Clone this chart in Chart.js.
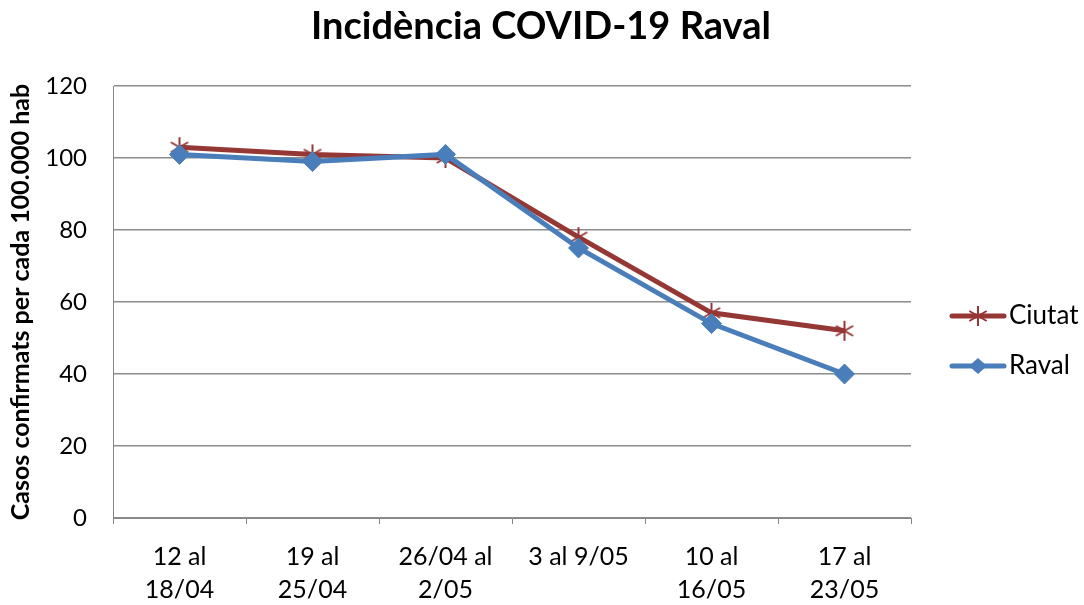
<!DOCTYPE html>
<html>
<head>
<meta charset="utf-8">
<script src="https://cdn.jsdelivr.net/npm/chart.js@4/dist/chart.umd.min.js"></script>
<style>
html,body{margin:0;padding:0;background:#fff;}
#wrap{width:1084px;height:605px;position:relative;}
</style>
</head>
<body>
<div id="wrap"><canvas id="c" width="1084" height="605"></canvas></div>
<script>
const categories = [["12 al","18/04"],["19 al","25/04"],["26/04 al","2/05"],["3 al 9/05"],["10 al","16/05"],["17 al","23/05"]];
const ciutat = [103, 101, 100, 78, 57, 52];
const raval = [101, 99, 101, 75, 54, 40];
const yTicks = [0, 20, 40, 60, 80, 100, 120];

const RED = '#953735';
const BLUE = '#4A7EBB';
const FONT = 'Lato, "Open Sans", sans-serif';

function starCanvas(size, color, lw){
  const c = document.createElement('canvas');
  c.width = size; c.height = size;
  const g = c.getContext('2d');
  g.strokeStyle = color; g.lineWidth = lw; g.lineCap = 'butt';
  const r = size/2 - 1, m = size/2;
  g.beginPath();
  g.moveTo(m, m-r); g.lineTo(m, m+r);
  const d = r*Math.cos(Math.PI/6), e = r*Math.sin(Math.PI/6);
  g.moveTo(m-d, m-e); g.lineTo(m+d, m+e);
  g.moveTo(m-d, m+e); g.lineTo(m+d, m-e);
  g.stroke();
  return c;
}
const star = starCanvas(22, RED, 2);

const overlay = {
  id: 'overlay',
  afterDraw(chart){
    const ctx = chart.ctx;
    ctx.save();
    ctx.fillStyle = '#000';
    ctx.textAlign = 'center';
    ctx.textBaseline = 'middle';
    ctx.font = 'bold 38px ' + FONT;
    ctx.fillText('Incidència COVID-19 Raval', 541, 27);
    // legend
    const items = [{label:'Ciutat', color:RED, y:316, type:'star'},{label:'Raval', color:BLUE, y:366, type:'diamond'}];
    items.forEach(it => {
      ctx.strokeStyle = it.color; ctx.lineWidth = 5; ctx.lineCap = 'round';
      ctx.beginPath(); ctx.moveTo(952, it.y); ctx.lineTo(1004, it.y); ctx.stroke();
      if (it.type === 'star') {
        ctx.drawImage(star, 978 - 11, it.y - 11);
      } else {
        ctx.fillStyle = it.color;
        ctx.beginPath();
        ctx.moveTo(978, it.y-8); ctx.lineTo(987, it.y); ctx.lineTo(978, it.y+8); ctx.lineTo(969, it.y);
        ctx.closePath(); ctx.fill();
      }
      ctx.fillStyle = '#000';
      ctx.textAlign = 'left';
      ctx.font = '26px ' + FONT;
      ctx.fillText(it.label, 1009, it.y);
    });
    ctx.restore();
  }
};

new Chart(document.getElementById('c'), {
  type: 'line',
  data: {
    labels: categories,
    datasets: [
      {label:'Ciutat', data: ciutat, borderColor: RED, backgroundColor: RED, borderWidth: 5,
       pointStyle: star, pointRadius: 11, pointHoverRadius: 11, order: 2, tension: 0},
      {label:'Raval', data: raval, borderColor: BLUE, backgroundColor: BLUE, borderWidth: 5,
       pointStyle: 'rectRot', pointRadius: 10, pointHoverRadius: 10, pointBorderWidth: 1, order: 1, tension: 0}
    ]
  },
  options: {
    responsive: false,
    animation: false,
    devicePixelRatio: 1,
    layout: {padding: {top: 86, right: 173, left: 0, bottom: 0}},
    plugins: {legend: {display: false}, title: {display: false}, tooltip: {enabled: false}},
    scales: {
      x: {
        offset: true,
        grid: {offset: true, drawOnChartArea: false, drawTicks: true, tickLength: 6, color: '#868686'},
        border: {color: '#868686', width: 1},
        ticks: {color: '#000', font: {family: FONT, size: 25, lineHeight: 1.32}, padding: 16, maxRotation: 0, autoSkip: false},
        afterFit(s){ s.height = 87; }
      },
      y: {
        min: 0, max: 120,
        afterBuildTicks(s){ s.ticks = yTicks.map(v => ({value: v})); },
        grid: {drawTicks: false, color: '#8c8c8c', lineWidth: 1.5},
        border: {color: '#868686', width: 1},
        ticks: {color: '#000', font: {family: FONT, size: 24}, padding: 26},
        title: {display: true, text: 'Casos confirmats per cada 100.000 hab', color: '#000',
                font: {family: FONT, size: 25, weight: 'bold'}, padding: {top: 6, bottom: 0}},
        afterFit(s){ s.width = 113; }
      }
    }
  },
  plugins: [overlay]
});
</script>
</body>
</html>
